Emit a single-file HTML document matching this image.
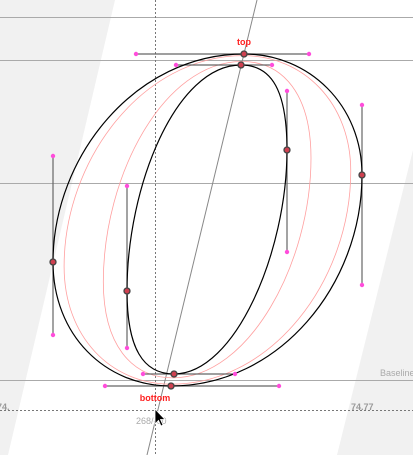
<!DOCTYPE html>
<html><head><meta charset="utf-8"><style>
html,body{margin:0;padding:0;background:#fff;width:413px;height:455px;overflow:hidden}
svg{display:block;font-family:"Liberation Sans",sans-serif}
</style></head><body>
<svg width="413" height="455" viewBox="0 0 413 455">
<polygon points="0,0 115,0 8,455 0,455" fill="#f1f1f1"/>
<polygon points="413,150 413,455 337,455" fill="#f1f1f1"/>
<g stroke="#aaa" stroke-width="1">
<line x1="0" y1="17.5" x2="413" y2="17.5"/>
<line x1="0" y1="60.5" x2="413" y2="60.5"/>
<line x1="0" y1="183.5" x2="413" y2="183.5"/>
<line x1="0" y1="380.5" x2="413" y2="380.5"/>
</g>
<line x1="0" y1="410.5" x2="413" y2="410.5" stroke="#777" stroke-dasharray="2,2"/>
<line x1="155.5" y1="0" x2="155.5" y2="455" stroke="#777" stroke-dasharray="2,2"/>
<line x1="257" y1="0" x2="147" y2="455" stroke="#888" stroke-width="1"/>
<g fill="none" stroke="#ff9f9f" stroke-width="0.8">
<path id="p1"/>
<path id="p2"/>
</g>
<g stroke="#666" stroke-width="1.2">
<line x1="136" y1="54" x2="309" y2="54"/><line x1="362" y1="105" x2="362" y2="285"/>
<line x1="105" y1="386" x2="279" y2="386"/><line x1="53" y1="156" x2="53" y2="335"/>
<line x1="176" y1="65" x2="272" y2="65"/><line x1="287" y1="91" x2="287" y2="252"/>
<line x1="143" y1="374" x2="235" y2="374"/><line x1="127" y1="186" x2="127" y2="348"/>
</g>
<path d="M244,54 C309,54 362,105 362,175 C362,285 279,386 171,386 C105,386 53,335 53,262 C53,156 136,54 244,54 Z" fill="none" stroke="#000" stroke-width="1.2"/>
<path d="M241,65 C272,65 287,91 287,150 C287,252 235,374 174,374 C143,374 127,348 127,291 C127,186 176,65 241,65 Z" fill="none" stroke="#000" stroke-width="1.2"/>
<g fill="#ff4ddb">
<circle cx="136" cy="54" r="2.2"/><circle cx="309" cy="54" r="2.2"/><circle cx="362" cy="105" r="2.2"/><circle cx="362" cy="285" r="2.2"/>
<circle cx="105" cy="386" r="2.2"/><circle cx="279" cy="386" r="2.2"/><circle cx="53" cy="156" r="2.2"/><circle cx="53" cy="335" r="2.2"/>
<circle cx="176" cy="65" r="2.2"/><circle cx="272" cy="65" r="2.2"/><circle cx="287" cy="91" r="2.2"/><circle cx="287" cy="252" r="2.2"/>
<circle cx="143" cy="374" r="2.2"/><circle cx="235" cy="374" r="2.2"/><circle cx="127" cy="186" r="2.2"/><circle cx="127" cy="348" r="2.2"/>
</g>
<g fill="#d04050" stroke="#444" stroke-width="1.3">
<circle cx="244" cy="54" r="3"/><circle cx="362" cy="175" r="3"/><circle cx="171" cy="386" r="3"/><circle cx="53" cy="262" r="3"/>
<circle cx="241" cy="65" r="3"/><circle cx="287" cy="150" r="3"/><circle cx="174" cy="374" r="3"/><circle cx="127" cy="291" r="3"/>
</g>
<text x="244" y="45" fill="#ff2020" font-size="9" font-weight="bold" text-anchor="middle">top</text>
<text x="155" y="401" fill="#ff2020" font-size="9" font-weight="bold" text-anchor="middle">bottom</text>
<text x="380" y="376" fill="#aaa" font-size="9">Baseline</text>
<text x="351" y="410" fill="#999" font-size="9" font-weight="bold">74.77</text>
<text x="-3" y="410" fill="#999" font-size="9" font-weight="bold">74.</text>
<text x="136" y="424" fill="#aaa" font-size="9">268/-60</text>
<path d="M155,409 L155,424 L158.5,420.5 L161,426 L163,425 L160.5,419.5 L165,419.5 Z" fill="#000" stroke="#fff" stroke-width="0.8"/>
</svg>
<script>
const outerPts=[244,54,309,54,362,105,362,175,362,285,279,386,171,386,105,386,53,335,53,262,53,156,136,54];
const innerPts=[241,65,272,65,287,91,287,150,287,252,235,374,174,374,143,374,127,348,127,291,127,186,176,65];
function interp(t){
  const p=outerPts.map((v,i)=>v+(innerPts[i]-v)*t);
  let d='M'+p[0]+','+p[1];
  for(let i=2;i<24;i+=6){d+=' C'+p[i]+','+p[i+1]+' '+p[i+2]+','+p[i+3]+' '+(i+4<24?p[i+4]+','+p[i+5]:p[0]+','+p[1]);}
  return d+' Z';
}
document.getElementById('p1').setAttribute('d',interp(0.15));
document.getElementById('p2').setAttribute('d',interp(0.68));
</script>
</body></html>
